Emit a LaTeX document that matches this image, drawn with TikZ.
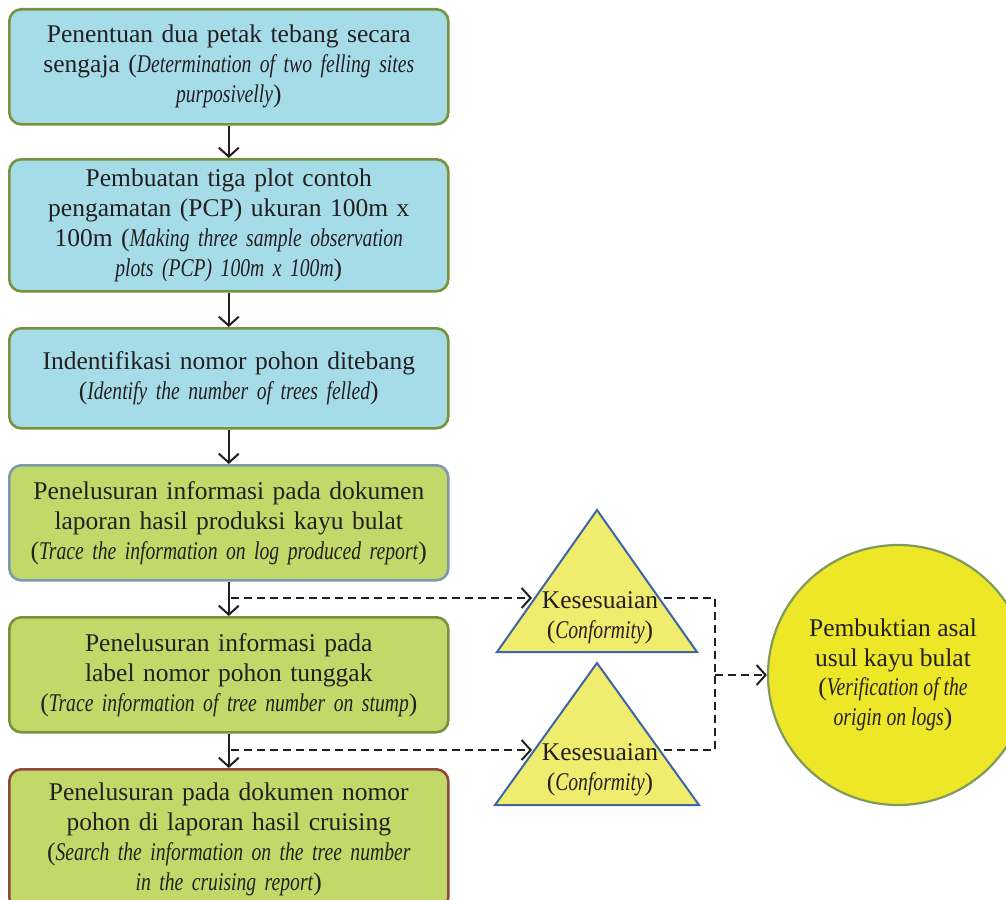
\documentclass[tikz,border=0pt]{standalone}
\usepackage{fontspec}
\setmainfont{Liberation Serif}[ItalicFeatures={FakeStretch=0.77}]
\usetikzlibrary{arrows.meta}
\definecolor{bluefill}{HTML}{A6DCE8}
\definecolor{greenline}{HTML}{76923C}
\definecolor{greenfill}{HTML}{C2D969}
\definecolor{grayline}{HTML}{7D97AD}
\definecolor{brownline}{HTML}{8E4A3B}
\definecolor{trifill}{HTML}{F0EC6E}
\definecolor{triline}{HTML}{3E65A8}
\definecolor{circfill}{HTML}{EDE727}
\definecolor{circline}{HTML}{7F9A5A}
\definecolor{ink}{HTML}{231F20}
\tikzset{
  flowbox/.style={draw, line width=2.6pt, rounded corners=12pt, text width=439pt, inner xsep=0pt, inner ysep=0pt, anchor=north west, align=center, text=ink, font=\fontsize{25.5}{30}\selectfont},
  bluebox/.style={flowbox, fill=bluefill, draw=greenline},
  greenbox/.style={flowbox, fill=greenfill, draw=greenline},
  arr/.style={line width=2pt, draw=ink, -{Straight Barb[length=9pt,width=20pt,line width=2pt]}},
  dsh/.style={line width=2.4pt, draw=ink, dash pattern=on 8pt off 5pt},
  darr/.style={dsh, -{Straight Barb[length=9pt,width=20pt,line width=2pt]}},
  tri/.style={fill=trifill, draw=triline, line width=2pt, line join=miter},
  tritext/.style={align=center, text=ink, font=\fontsize{25.5}{30}\selectfont, inner sep=0pt},
}
\begin{document}
\begin{tikzpicture}[x=1pt,y=-1pt]
\useasboundingbox (0,0) rectangle (1006,899);
% boxes
\node[bluebox, minimum height=115pt] (b1) at (8,8) {Penentuan dua petak tebang secara\\ sengaja (\textit{Determination of two felling sites}\\ \textit{purposivelly})};
\node[bluebox, minimum height=132pt] (b2) at (8,158) {Pembuatan tiga plot contoh\\ pengamatan (PCP) ukuran 100m x\\ 100m (\textit{Making three sample observation}\\ \textit{plots (PCP) 100m x 100m})};
\node[bluebox, minimum height=100pt] (b3) at (8,327) {Indentifikasi nomor pohon ditebang\\ (\textit{Identify the number of trees felled})};
\node[greenbox, draw=grayline, minimum height=115pt] (b4) at (8,464) {Penelusuran informasi pada dokumen\\ laporan hasil produksi kayu bulat\\ (\textit{Trace the information on log produced report})};
\node[greenbox, minimum height=115pt] (b5) at (8,616) {Penelusuran informasi pada\\ label nomor pohon tunggak\\ (\textit{Trace information of tree number on stump})};
\node[greenbox, draw=brownline, minimum height=140pt] (b6) at (8,768) {Penelusuran pada dokumen nomor\\ pohon di laporan hasil cruising\\ (\textit{Search the information on the tree number}\\ \textit{in the cruising report})};
% triangles
\draw[tri] (597,510) -- (697,652) -- (497,652) -- cycle;
\draw[tri] (597,663) -- (699,805) -- (495,805) -- cycle;
\node[tritext] (k1) at (600,618) {Kesesuaian\\ (\textit{Conformity})};
\node[tritext] (k2) at (600,770) {Kesesuaian\\ (\textit{Conformity})};
% circle
\node[circle, minimum size=260pt, inner sep=0pt, fill=circfill, draw=circline, line width=2.2pt, align=center, text=ink, font=\fontsize{25.5}{29.5}\selectfont] (c) at (898,675) {\hspace*{-10pt}Pembuktian asal\\ \hspace*{-10pt}usul kayu bulat\\ \hspace*{-10pt}(\textit{Verification of the}\\ \hspace*{-10pt}\textit{origin on logs})};
% coordinates
\coordinate (j1) at (231,598);
\coordinate (j2) at (231,750);
\coordinate (t1w) at (532,598);
\coordinate (t2w) at (532,750);
\coordinate (t1e) at (664,598);
\coordinate (t2e) at (664,750);
\coordinate (m) at (715,675);
% solid arrows
\draw[arr] (b1.south) -- (b2.north);
\draw[arr] (b2.south) -- (b3.north);
\draw[arr] (b3.south) -- (b4.north);
\draw[arr] (b4.south) -- (b5.north);
\draw[arr] (b5.south) -- (b6.north);
% dashed
\draw[darr] (j1) -- (t1w);
\draw[darr] (j2) -- (t2w);
\draw[dsh] (t1e) -| (m);
\draw[dsh] (t2e) -| (m);
\draw[darr] (m) -- (c.west);
\end{tikzpicture}
\end{document}
